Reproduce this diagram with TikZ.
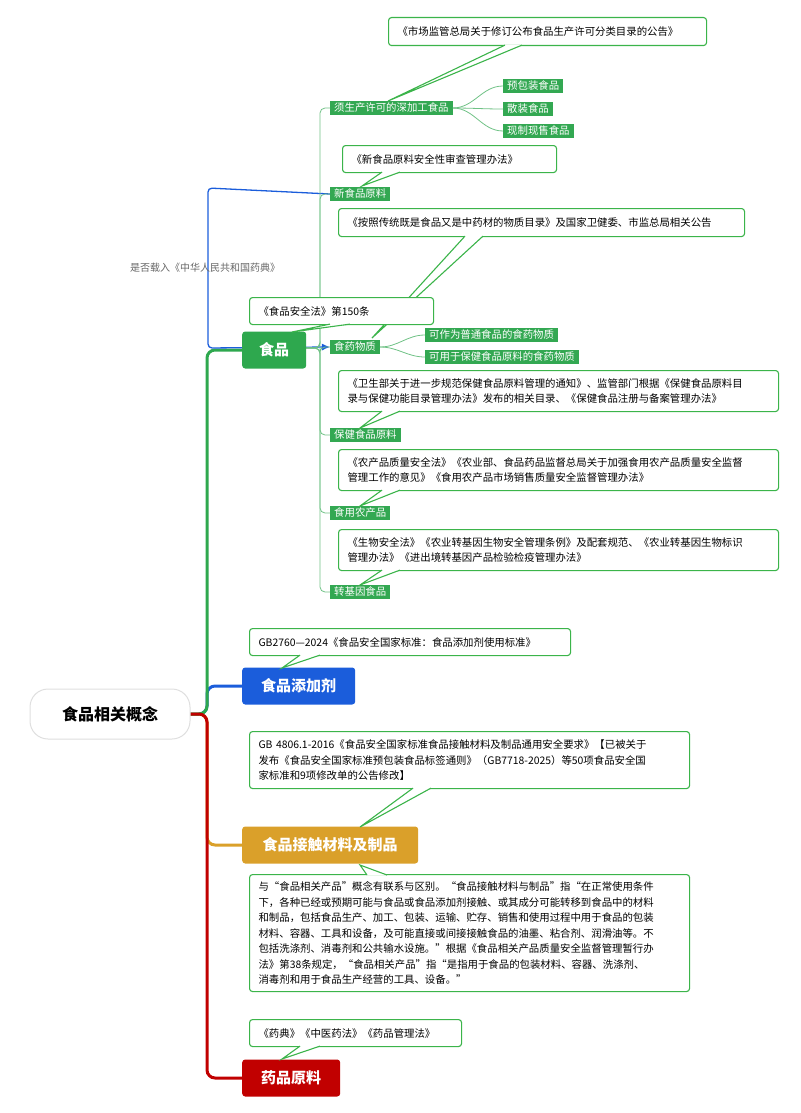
\documentclass[tikz,border=0pt]{standalone}
\usepackage{fontspec}
\setmainfont{Noto Sans CJK SC}
\usetikzlibrary{arrows.meta}
\begin{document}
\begin{tikzpicture}[x=1pt,y=-1pt,
  cb/.style={draw=cg,line width=1.1pt,rounded corners=3pt,fill=white,anchor=north west,align=left,inner xsep=9pt,inner ysep=4pt,font=\fontsize{10.4}{15.5}\selectfont},
  lbl/.style={fill=lg,text=white,anchor=west,inner xsep=4pt,inner ysep=2pt,font=\fontsize{10.4}{11}\selectfont},
  big/.style={rounded corners=3pt,text=white,font=\fontsize{15}{17}\selectfont\bfseries,minimum height=37pt,anchor=west,inner xsep=8pt},
  tl/.style={draw=lg!70,line width=0.8pt},
  tail/.style={fill=white,draw=cg,line width=1.1pt,line join=miter}]
\definecolor{cg}{HTML}{3BB44A}
\definecolor{lg}{HTML}{33A852}
\definecolor{mg}{HTML}{2EA84E}
\definecolor{mb}{HTML}{1B5DDB}
\definecolor{my}{HTML}{DAA02A}
\definecolor{mr}{HTML}{C10000}
\useasboundingbox (0,0) rectangle (800,1113);
% root connectors
\draw[mb,line width=3pt,rounded corners=8pt] (190,714) -- (207,714) |- (242,686);
\draw[my,line width=3pt,rounded corners=8pt] (190,714) -- (207,714) |- (242,845);
\draw[mg,line width=3pt,rounded corners=8pt] (190,714) -- (207,714) |- (242,350);
\draw[mr,line width=3pt,rounded corners=8pt] (190,714) -- (207,714) |- (242,1078);
% tree labels
\node[lbl] (l1) at (330,108) {须生产许可的深加工食品};
\node[lbl] (l2) at (330,194) {新食品原料};
\node[lbl] (l3) at (330,347) {食药物质};
\node[lbl] (l4) at (330,435) {保健食品原料};
\node[lbl] (l5) at (330,513) {食用农产品};
\node[lbl] (l6) at (330,592) {转基因食品};
\node[lbl] (s1) at (503,86) {预包装食品};
\node[lbl] (s2) at (503,109) {散装食品};
\node[lbl] (s3) at (503,131) {现制现售食品};
\node[lbl] (s4) at (425,335) {可作为普通食品的食药物质};
\node[lbl] (s5) at (425,357) {可用于保健食品原料的食药物质};
% blue link
\draw[mb,line width=1.3pt,rounded corners=4pt,-{Latex[length=8pt,width=7pt]}] (l2.west) -- (208,188) -- (208,348) -- (l3.west);
\foreach \n in {l1,l2,l3,l4,l5,l6}{\draw[tl,rounded corners=5pt] (306,348) -- (320,348) |- (\n.west);}
\foreach \n in {s1,s2,s3}{\draw[tl] (l1.east) to[out=0,in=180] (\n.west);}
\foreach \n in {s4,s5}{\draw[tl] (l3.east) to[out=0,in=180] (\n.west);}
% main nodes
\node[draw=gray!25,line width=1pt,fill=white,rounded corners=18pt,minimum width=160pt,minimum height=50pt,font=\fontsize{16}{18}\selectfont\bfseries] (root) at (110,714) {食品相关概念};
\node[big,fill=mg,minimum width=64pt] (sp) at (242,350) {食品};
\node[big,fill=mb,minimum width=113pt] (tj) at (242,686) {食品添加剂};
\node[big,fill=my,minimum width=176pt] (jc) at (242,845) {食品接触材料及制品};
\node[big,fill=mr,minimum width=98pt] (yp) at (242,1078) {药品原料};
% callouts
\node[cb,text width=300pt,minimum height=28pt] (c1) at (388,17) {《市场监管总局关于修订公布食品生产许可分类目录的公告》};
\draw[tail] ([yshift=1pt]505,0 |- c1.south) -- (388,101) -- ([yshift=1pt]522,0 |- c1.south);
\node[cb,text width=196pt,minimum height=27pt] (c2) at (342,145) {《新食品原料安全性审查管理办法》};
\draw[tail] ([yshift=1pt]382,0 |- c2.south) -- (362,186) -- ([yshift=1pt]400,0 |- c2.south);
\node[cb,text width=388pt,minimum height=28pt] (c3) at (338,208) {《按照传统既是食品又是中药材的物质目录》及国家卫健委、市监总局相关公告};
\draw[tail] ([yshift=1pt]465,0 |- c3.south) -- (372,338) -- ([yshift=1pt]483,0 |- c3.south);
\node[cb,text width=166pt,minimum height=27pt] (c4) at (249,297) {《食品安全法》第150条};
\draw[tail] ([yshift=1pt]330,0 |- c4.south) -- (292,332) -- ([yshift=1pt]350,0 |- c4.south);
\node[cb,text width=422pt,minimum height=41pt] (c5) at (338,370) {《卫生部关于进一步规范保健食品原料管理的通知》、监管部门根据《保健食品原料目\\录与保健功能目录管理办法》发布的相关目录、《保健食品注册与备案管理办法》};
\draw[tail] ([yshift=1pt]382,0 |- c5.south) -- (360,428) -- ([yshift=1pt]400,0 |- c5.south);
\node[cb,text width=422pt,minimum height=41pt] (c6) at (338,449) {《农产品质量安全法》《农业部、食品药品监督总局关于加强食用农产品质量安全监督\\管理工作的意见》《食用农产品市场销售质量安全监督管理办法》};
\draw[tail] ([yshift=1pt]382,0 |- c6.south) -- (360,506) -- ([yshift=1pt]400,0 |- c6.south);
\node[cb,text width=422pt,minimum height=41pt] (c7) at (338,529) {《生物安全法》《农业转基因生物安全管理条例》及配套规范、《农业转基因生物标识\\管理办法》《进出境转基因产品检验检疫管理办法》};
\draw[tail] ([yshift=1pt]382,0 |- c7.south) -- (360,585) -- ([yshift=1pt]400,0 |- c7.south);
\node[cb,text width=303pt,minimum height=27pt] (c8) at (249,628) {GB2760—2024《食品安全国家标准：食品添加剂使用标准》};
\draw[tail] ([yshift=1pt]300,0 |- c8.south) -- (282,668) -- ([yshift=1pt]320,0 |- c8.south);
\node[cb,text width=422pt,minimum height=57pt] (c9) at (249,731) {GB 4806.1-2016《食品安全国家标准食品接触材料及制品通用安全要求》【已被关于\\发布《食品安全国家标准预包装食品标签通则》（GB7718-2025）等50项食品安全国\\家标准和9项修改单的公告修改】};
\draw[tail] ([yshift=1pt]413,0 |- c9.south) -- (360,827) -- ([yshift=1pt]431,0 |- c9.south);
\node[cb,text width=422pt,minimum height=117pt] (c10) at (249,874) {与“食品相关产品”概念有联系与区别。“食品接触材料与制品”指“在正常使用条件\\下，各种已经或预期可能与食品或食品添加剂接触、或其成分可能转移到食品中的材料\\和制品，包括食品生产、加工、包装、运输、贮存、销售和使用过程中用于食品的包装\\材料、容器、工具和设备，及可能直接或间接接触食品的油墨、粘合剂、润滑油等。不\\包括洗涤剂、消毒剂和公共输水设施。”根据《食品相关产品质量安全监督管理暂行办\\法》第38条规定，“食品相关产品”指“是指用于食品的包装材料、容器、洗涤剂、\\消毒剂和用于食品生产经营的工具、设备。”};
\draw[tail] ([yshift=-1pt]367,0 |- c10.north) -- (360,865) -- ([yshift=-1pt]387,0 |- c10.north);
\node[cb,text width=194pt,minimum height=27pt] (c11) at (249,1019) {《药典》《中医药法》《药品管理法》};
\draw[tail] ([yshift=1pt]300,0 |- c11.south) -- (282,1059) -- ([yshift=1pt]320,0 |- c11.south);
\node[text=gray!80!black,font=\fontsize{10}{12}\selectfont] (lab) at (205,268) {是否载入《中华人民共和国药典》};
\end{tikzpicture}
\end{document}
